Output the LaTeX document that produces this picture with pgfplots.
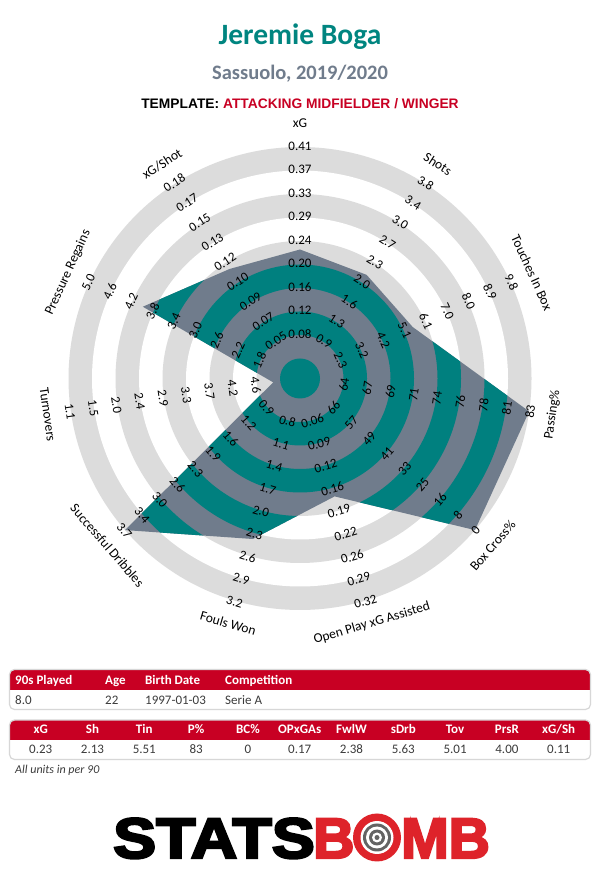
\documentclass[border=0pt]{standalone}
\usepackage{pgfplots}
\pgfplotsset{compat=1.18}
\usepackage{pgfplotstable}
\usepackage{graphicx}
\usepackage{fontspec}
\setmainfont{Carlito}
\newfontfamily\arialfont{Liberation Sans}
\newfontfamily\logofont[FakeBold=4]{Liberation Sans Bold}
\definecolor{ringgrey}{RGB}{220,220,220}
\definecolor{slate}{RGB}{112,124,140}
\definecolor{radteal}{RGB}{0,128,127}
\definecolor{titleteal}{RGB}{0,133,128}
\definecolor{subgrey}{RGB}{112,124,140}
\definecolor{sbred}{RGB}{200,0,35}
\definecolor{logored}{RGB}{222,35,42}
\definecolor{valgrey}{RGB}{60,60,60}
\definecolor{boxgrey}{RGB}{215,215,215}
\definecolor{targetgrey}{RGB}{100,100,100}

% radar polygon: angle (deg) and plotted radius (px from centre)
\pgfplotstableread{
angle radius
90 129.0
57.273 123.2
24.545 123.9
-8.182 231.5
-40.909 231.5
-73.636 122.9
-106.364 167.3
-139.091 231.5
-171.818 27.1
155.455 172.8
122.727 130.2
90 129.0
}\radar

\tikzset{tealrings/.style={path picture={%
  \fill[radteal, even odd rule, path picture={}] (C) circle[radius=208pt]
     circle[radius=184.5pt] circle[radius=161pt] circle[radius=137.5pt]
     circle[radius=114pt] circle[radius=90.5pt] circle[radius=67pt]
     circle[radius=43.5pt] circle[radius=20pt];}}}

\begin{document}
\begin{tikzpicture}[x=1pt,y=1pt]
\path[use as bounding box] (0,0) rectangle (600,880);
\fill[white] (0,0) rectangle (600,880);
\coordinate (C) at (300,501.5);
% rings
\foreach \k in {9,8,...,0}{
  \pgfmathsetmacro\rr{20+23.5*\k}
  \pgfmathtruncatemacro\odd{mod(\k,2)}
  \ifnum\odd=1 \def\col{ringgrey}\else\def\col{white}\fi
  \fill[\col] (C) circle[radius=\rr];
}
\begin{axis}[at={(0,0)}, anchor=south west, x=1pt, y=1pt, scale only axis,
  hide axis, xmin=-300, xmax=300, ymin=-501.5, ymax=378.5,
  enlargelimits=false, clip=false]
\addplot[draw=none, fill=slate, data cs=polar, tealrings]
  table[x=angle, y=radius] {\radar};
\end{axis}
% axis names and ring labels
\foreach \i/\name/\labs in {
 0/{xG}/{0.08,0.12,0.16,0.20,0.24,0.29,0.33,0.37,0.41},
 1/{Shots}/{0.9,1.3,1.6,2.0,2.3,2.7,3.0,3.4,3.8},
 2/{Touches In Box}/{2.3,3.2,4.2,5.1,6.1,7.0,8.0,8.9,9.8},
 3/{Passing\%}/{64,67,69,71,74,76,78,81,83},
 4/{Box Cross\%}/{66,57,49,41,33,25,16,8,0},
 5/{Open Play xG Assisted}/{0.06,0.09,0.12,0.16,0.19,0.22,0.26,0.29,0.32},
 6/{Fouls Won}/{0.8,1.1,1.4,1.7,2.0,2.3,2.6,2.9,3.2},
 7/{Successful Dribbles}/{0.9,1.2,1.6,1.9,2.3,2.6,3.0,3.4,3.7},
 8/{Turnovers}/{4.6,4.2,3.7,3.3,2.9,2.4,2.0,1.5,1.1},
 9/{Pressure Regains}/{1.8,2.2,2.6,3.0,3.4,3.8,4.2,4.6,5.0},
 10/{xG/Shot}/{0.05,0.07,0.09,0.10,0.12,0.13,0.15,0.17,0.18}}{
  \pgfmathsetmacro\th{90-\i*360/11}
  \pgfmathsetmacro\thn{\th<-180 ? \th+360 : \th}
  \pgfmathsetmacro\rot{\thn>0 ? \thn-90 : \thn+90}
  \node[rotate=\rot, inner sep=0pt, font=\fontsize{13.5}{16}\selectfont] at ([shift={(\thn:255)}]C) {\name};
  \foreach \l [count=\k] in \labs {
    \pgfmathsetmacro\rr{21+23.5*\k}
    \node[rotate=\rot, inner sep=0pt, font=\fontsize{13}{15}\selectfont] at ([shift={(\thn:\rr)}]C) {\l};
  }
}
% titles
\node[anchor=base, inner sep=0pt, text=titleteal, font=\fontsize{29.5}{34}\selectfont\bfseries] at (300,835) {Jeremie Boga};
\node[anchor=base, inner sep=0pt, text=subgrey, font=\fontsize{20.5}{24}\selectfont\bfseries] at (300,800) {Sassuolo, 2019/2020};
\node[anchor=base, inner sep=0pt, font=\arialfont\bfseries\fontsize{13.8}{16}\selectfont] at (300,771.5) {TEMPLATE: \textcolor{sbred}{ATTACKING MIDFIELDER / WINGER}};
% table 1
\begin{scope}
\clip[rounded corners=5] (9.5,170.5) rectangle (590.5,210.5);
\fill[white] (9.5,170.5) rectangle (590.5,210.5);
\fill[sbred] (9.5,189.5) rectangle (590.5,210.5);
\end{scope}
\draw[boxgrey, line width=1.2, rounded corners=5] (9.5,170.5) rectangle (590.5,210.5);
\foreach \x/\h/\v in {15/{90s Played}/{8.0}, 105/{Age}/{22}, 145/{Birth Date}/{1997-01-03}, 225/{Competition}/{Serie A}}{
  \node[anchor=base west, inner sep=0pt, text=white, font=\fontsize{13}{15}\selectfont\bfseries] at (\x,195.5) {\h};
  \node[anchor=base west, inner sep=0pt, text=valgrey, font=\fontsize{13}{15}\selectfont] at (\x,175.8) {\v};
}
% table 2
\begin{scope}
\clip[rounded corners=5] (9.5,120.5) rectangle (590.5,160);
\fill[white] (9.5,120.5) rectangle (590.5,160);
\fill[sbred] (9.5,140) rectangle (590.5,160);
\end{scope}
\draw[boxgrey, line width=1.2, rounded corners=5] (9.5,120.5) rectangle (590.5,160);
\foreach \h/\v [count=\c from 0] in {xG/0.23, Sh/2.13, Tin/5.51, P\%/83, BC\%/0, OPxGAs/0.17, FwlW/2.38, sDrb/5.63, Tov/5.01, PrsR/4.00, {xG/Sh}/0.11}{
  \pgfmathsetmacro\xx{40.7+51.8*\c}
  \node[anchor=base, inner sep=0pt, text=white, font=\fontsize{13}{15}\selectfont\bfseries] at (\xx,146) {\h};
  \node[anchor=base, inner sep=0pt, text=valgrey, font=\fontsize{13}{15}\selectfont] at (\xx,126) {\v};
}
\node[anchor=base west, inner sep=0pt, text=valgrey, font=\fontsize{12}{14}\selectfont\itshape] at (15,106.7) {All units in per 90};
% logo
\node[anchor=base west, inner sep=0pt, font=\logofont\fontsize{57}{60}\selectfont] at (113,22) {\scalebox{1.13}[1]{STATS}};
\node[anchor=base west, inner sep=0pt, text=logored, font=\logofont\fontsize{57}{60}\selectfont] at (313,22) {\scalebox{1.0}[1]{B}};
\fill[logored] (377,42.5) circle[radius=24];
\fill[white] (377,42.5) circle[radius=16.5];
\fill[targetgrey] (377,42.5) circle[radius=14];
\fill[white] (377,42.5) circle[radius=11];
\fill[targetgrey] (377,42.5) circle[radius=8];
\fill[white] (377,42.5) circle[radius=5];
\fill[targetgrey] (377,42.5) circle[radius=2.5];
\node[anchor=base west, inner sep=0pt, text=logored, font=\logofont\fontsize{57}{60}\selectfont] at (401,22) {MB};
\end{tikzpicture}
\end{document}
